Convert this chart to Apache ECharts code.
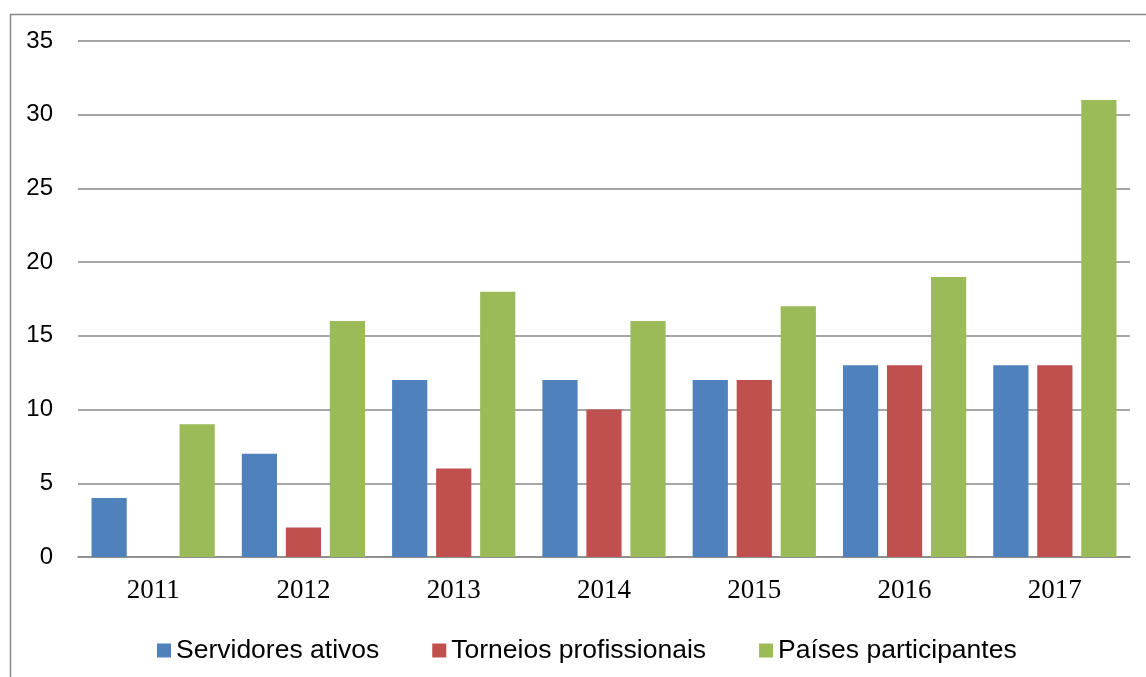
<!DOCTYPE html>
<html>
<head>
<meta charset="utf-8">
<script src="https://cdn.jsdelivr.net/npm/echarts@6/dist/echarts.min.js"></script>
<style>html,body{margin:0;padding:0;background:#fff}#c{width:1146px;height:677px}</style>
</head>
<body>
<div id="c"></div>
<script>
const categories = ['2011','2012','2013','2014','2015','2016','2017'];
const servidores = [4, 7, 12, 12, 12, 13, 13];
const torneios = [0, 2, 6, 10, 12, 13, 13];
const paises = [9, 16, 18, 16, 17, 19, 31];
const seriesNames = ['Servidores ativos', 'Torneios profissionais', 'Países participantes'];

const chart = echarts.init(document.getElementById('c'));
chart.setOption({
  animation: false,
  color: ['#4F81BD', '#C0504D', '#9BBB59'],
  graphic: [{
    type: 'rect', left: 8, top: 12, silent: true,
    shape: { x: 0, y: 0, width: 1200, height: 700 },
    style: { fill: 'none', stroke: '#888', lineWidth: 1.5 }
  }],
  grid: { left: 78, right: 16, top: 41, bottom: 120, containLabel: false },
  legend: {
    left: 152, top: 632, itemWidth: 14, itemHeight: 14, itemGap: 53,
    icon: 'rect',
    textStyle: { fontFamily: 'Liberation Sans, Arial', fontSize: 26.5, lineHeight: 26, color: '#000' },
    data: seriesNames
  },
  xAxis: {
    type: 'category', data: categories,
    axisLine: { lineStyle: { color: '#888', width: 1.5 } },
    axisTick: { show: false },
    axisLabel: { fontFamily: 'Liberation Serif', fontSize: 27, color: '#000', margin: 20 }
  },
  yAxis: {
    type: 'value', min: 0, max: 35, interval: 5,
    axisLine: { show: false }, axisTick: { show: false },
    splitLine: { lineStyle: { color: '#888', width: 1.5 } },
    axisLabel: { fontFamily: 'Liberation Sans, Arial', fontSize: 24, color: '#000', margin: 25 }
  },
  series: [
    { name: seriesNames[0], type: 'bar', data: servidores, barCategoryGap: '18%', barGap: '25%' },
    { name: seriesNames[1], type: 'bar', data: torneios, barCategoryGap: '18%', barGap: '25%' },
    { name: seriesNames[2], type: 'bar', data: paises, barCategoryGap: '18%', barGap: '25%' }
  ]
});
</script>
</body>
</html>
